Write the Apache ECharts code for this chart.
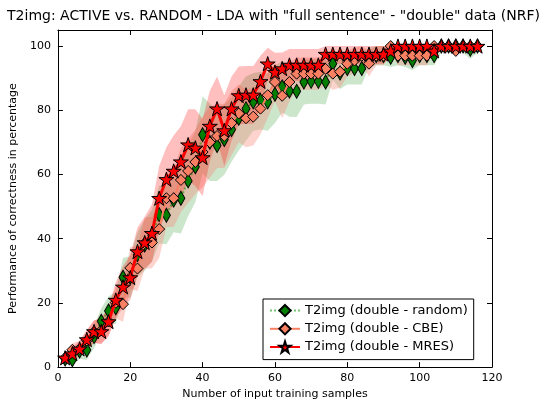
<!DOCTYPE html>
<html><head><meta charset="utf-8">
<script src="https://cdn.jsdelivr.net/npm/echarts@6/dist/echarts.min.js"></script>
<style>html,body{margin:0;padding:0;background:#fff}#c{width:547px;height:405px}</style>
</head><body><div id="c"></div>
<script>
const titleText = 'T2img: ACTIVE vs. RANDOM - LDA with "full sentence" - "double" data (NRF)';
const xName = 'Number of input training samples';
const yName = 'Performance of correctness in percentage';
const seriesNames = ['T2img (double - random)', 'T2img (double - CBE)', 'T2img (double - MRES)'];

const xSamples = [2,4,6,8,10,12,14,16,18,20,
  22,24,26,28,30,32,34,36,38,40,
  42,44,46,48,50,52,54,56,58,60,
  62,64,66,68,70,72,74,76,78,80,
  82,84,86,88,90,92,94,96,98,100,
  102,104,106,108,110,112,114,116];

const randomMean = [2.5,2.3,5,5.3,9.5,14.3,17.5,18.5,28,28,
  35,38,41,47.5,47.3,52,52.6,58,62.4,72.4,
  70,69,70.9,74,77.5,80.5,82.6,83,82.6,85,
  87.3,86,85.9,88.8,89,89,88.8,94.5,91.6,93,
  93,93,96.5,97,97,96.5,97,96.5,95.5,97,
  97,97,100,100,100,100,99,100];

const cbeMean = [2.9,5.4,5.7,8.3,11,11.4,14.2,20.1,19.6,30.9,
  30.7,38.6,38.8,43,52.6,52.6,58.3,61.1,63.9,67,
  70,72,72,76,79,77.5,78,80.5,84.7,88.8,
  84.5,88.8,91.4,91.4,91.4,91.4,92.9,91.4,92,94.5,
  95.5,97,94.5,97,97,100,97,97,97,97,
  97,100,100,100,98.5,100,100,100];

const mresMean = [2.9,4.2,5.7,8.6,11.1,11.1,14.2,20.9,25,27.9,
  36,38.8,41.7,52.6,58.5,61.1,64,69.3,68.3,65.3,
  75.1,80.5,73.7,80.5,84.6,84.8,84.8,89,94.5,91.9,
  93,94.1,94.1,94.1,94.1,94.1,97.5,97.5,97.5,97.5,
  97.5,97.5,97.5,97.5,97.5,98.5,100,100,100,100,
  100,98.5,100,100,100,100,100,100];

const randomSpread = [1.5,2,2.5,3,3.5,4,4.5,5,6,6.5,
  7,8,8,9,9,10,11,11,11,12,
  12,11,11,10,10,10,9,9,9,9,
  8,8,8,7,7,7,7,5,5,5,
  5,5,3,3,3,3,3,3,3,3,
  3,3,2,2,2,2,3,2];

const cbeSpread = [1.5,2,2.5,3,3.5,4,4.5,5,5.5,6.5,
  7,8,8,9,9,9,10,10,10,11,
  11,10,10,10,9,9,9,8,7,6,
  7,6,5,5,5,5,5,5,5,4,
  4,3,4,3,3,2,3,3,3,3,
  3,2,1,1,2,1,1,1];

const mresSpread = [1.5,2,2.5,3,3.5,4,4.5,5.5,6.5,7,
  7.5,8,9,10,10,11,11,11,12,12,
  11,10,11,10,9,9,9,8,5,6,
  5,5,5,5,5,5,3,3,3,3,
  3,3,3,3,3,2,1,1,1,1,
  1,2,1,1,1,1,1,1];

const yTicks = [0,20,40,60,80,100];

const FONT = 'DejaVu Sans';
const STAR = 'path://M12,0 L14.69,8.29 L23.41,8.29 L16.36,13.42 L19.05,21.71 L12,16.58 L4.95,21.71 L7.64,13.42 L0.59,8.29 L9.31,8.29 Z';

function pairs(arr) { return arr.map((v, i) => [xSamples[i], v]); }

function band(mean, spread, key, color) {
  const lo = mean.map((m, i) => Math.max(0, m - spread[i]));
  const hi = mean.map((m, i) => Math.min(100, m + spread[i]));
  return {
    type: 'custom', name: key, silent: true, z: 1,
    data: [[xSamples[0], lo[0]]],
    renderItem: function (params, api) {
      const pts = [];
      for (let i = 0; i < xSamples.length; i++) pts.push(api.coord([xSamples[i], hi[i]]));
      for (let i = xSamples.length - 1; i >= 0; i--) pts.push(api.coord([xSamples[i], lo[i]]));
      return { type: 'polygon', shape: { points: pts }, style: { fill: color, stroke: null } };
    }
  };
}

const chart = echarts.init(document.getElementById('c'), null, { renderer: 'canvas' });

const axisCommon = {
  min: 0, max: 120, interval: 20, type: 'value',
  axisLine: { show: true, onZero: false, lineStyle: { color: '#000', width: 1 } },
  axisTick: { show: true, inside: true, length: 5, lineStyle: { color: '#000' } },
  splitLine: { show: false }
};

chart.setOption({
  animation: false,
  backgroundColor: '#fff',
  title: {
    text: titleText, left: 'center', top: 4,
    textStyle: { fontFamily: FONT, fontSize: 14, fontWeight: 'normal', color: '#000' }
  },
  grid: { left: 54, right: 55, top: 30, bottom: 35 },
  legend: {
    data: seriesNames,
    orient: 'vertical',
    left: 263, top: 299,
    padding: [5, 6, 6, 6],
    itemGap: 5,
    itemWidth: 30, itemHeight: 14,
    borderColor: '#000', borderWidth: 1, borderRadius: 0,
    backgroundColor: '#fff',
    textStyle: { fontFamily: FONT, fontSize: 13, color: '#000' }
  },
  xAxis: [
    Object.assign({}, axisCommon, {
      position: 'bottom',
      name: xName, nameLocation: 'middle', nameGap: 19,
      nameTextStyle: { fontFamily: FONT, fontSize: 11, color: '#000' },
      axisLabel: { show: true, margin: 6, fontFamily: FONT, fontSize: 11, color: '#000' }
    }),
    Object.assign({}, axisCommon, {
      position: 'top', axisLabel: { show: false }
    })
  ],
  yAxis: [
    Object.assign({}, axisCommon, {
      min: 0, max: 105, interval: 20, position: 'left',
      name: yName, nameLocation: 'middle', nameGap: 25, nameRotate: 90,
      nameTextStyle: { fontFamily: FONT, fontSize: 11, color: '#000' },
      axisLabel: { show: true, margin: 7, fontFamily: FONT, fontSize: 11, color: '#000',
        formatter: v => (yTicks.indexOf(v) >= 0 ? String(v) : '') }
    }),
    Object.assign({}, axisCommon, {
      min: 0, max: 105, interval: 20, position: 'right', axisLabel: { show: false }
    })
  ],
  series: [
    band(randomMean, randomSpread, 'bandRandom', 'rgba(0,128,0,0.2)'),
    band(cbeMean, cbeSpread, 'bandCBE', 'rgba(250,128,114,0.35)'),
    band(mresMean, mresSpread, 'bandMRES', 'rgba(255,0,0,0.25)'),
    { type: 'line', name: seriesNames[0], data: pairs(randomMean), z: 3,
      symbol: 'diamond', symbolSize: [8, 14], showAllSymbol: true,
      lineStyle: { color: 'rgba(0,150,0,0.55)', width: 2, type: 'dotted' },
      itemStyle: { color: '#007f00', borderColor: '#000', borderWidth: 1 } },
    { type: 'line', name: seriesNames[1], data: pairs(cbeMean), z: 4,
      symbol: 'diamond', symbolSize: [11, 11], showAllSymbol: true,
      lineStyle: { color: '#fa8064', width: 2 },
      itemStyle: { color: '#fa8064', borderColor: '#000', borderWidth: 1 } },
    { type: 'line', name: seriesNames[2], data: pairs(mresMean), z: 5,
      symbol: STAR, symbolSize: 15, symbolKeepAspect: true, showAllSymbol: true,
      lineStyle: { color: '#ff0000', width: 3 },
      itemStyle: { color: '#ff0000', borderColor: '#000', borderWidth: 1 } }
  ]
});
</script>
</body></html>
